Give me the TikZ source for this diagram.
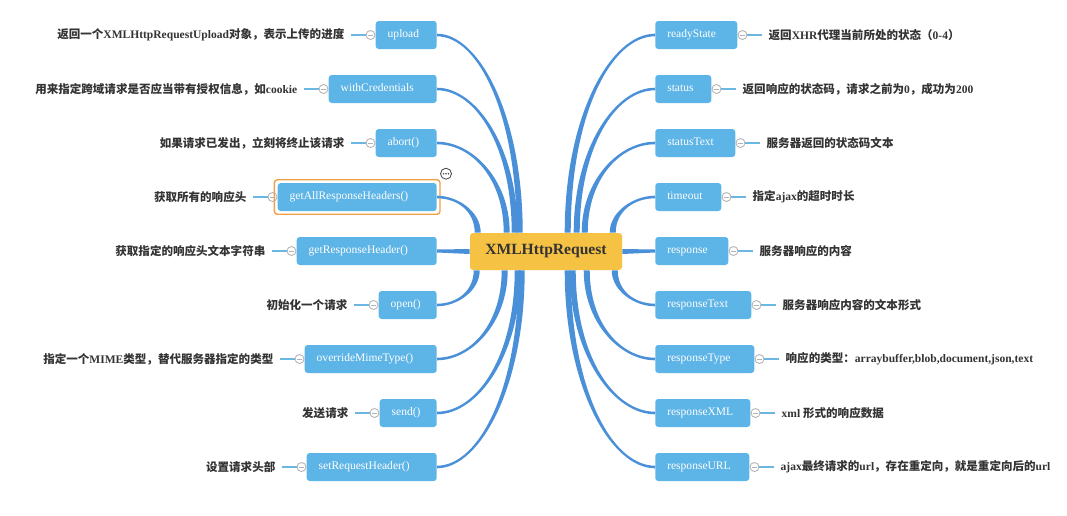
\documentclass[tikz,border=0pt]{standalone}
\usepackage{fontspec}
\setmainfont{Liberation Serif}
\newfontfamily\cjk{Noto Sans CJK SC}
\usetikzlibrary{calc,positioning}
\newlength\px
\setlength\px{0.025cm}
\definecolor{leafblue}{RGB}{93,180,230}
\definecolor{branchblue}{RGB}{74,144,217}
\definecolor{twigblue}{RGB}{108,182,228}
\definecolor{rootyellow}{RGB}{246,194,68}
\definecolor{ink}{RGB}{51,51,51}
\definecolor{hilite}{RGB}{240,160,72}
\newcommand{\zh}[1]{{\cjk\bfseries #1}}
\tikzset{
    root/.style={
            fill=rootyellow,
            rounded corners=3\px,
            minimum width=152\px,
            minimum height=37\px,
            inner sep=0pt,
            text height=7.2pt,
            text depth=3.2pt,
            text=ink,
            font=\fontsize{11.1}{13}\selectfont\bfseries
        },
    leaf/.style={
            fill=leafblue,
            rounded corners=3\px,
            minimum height=28\px,
            inner xsep=12\px, % text is boxed to the box width minus 24px
            inner ysep=0pt,
            text height=6pt,
            text depth=2.8pt,
            text=white,
            font=\fontsize{8.2}{10}\selectfont
        },
    fold/.style={
            circle,
            draw=black!30,
            fill=white,
            line width=0.6pt,
            minimum size=9\px,
            inner sep=0pt,
            path picture={\draw[black!30] ([xshift=-2.5\px]path picture bounding box.center) -- ([xshift=2.5\px]path picture bounding box.center);}
        },
    desc/.style={
            text=ink,
            inner xsep=6\px,
            inner ysep=2\px,
            font=\fontsize{8.2}{10}\selectfont\bfseries
        },
    twig/.style={
            draw=twigblue,
            line width=0.8pt
        },
    limb/.style={
            fill=branchblue
        }
}
% one item left of the root: name, y, text width, label, description
\newcommand{\leftitem}[5]{%
    \node[leaf, anchor=east] (#1) at (437,#2) {\makebox[#3\px][l]{#4}};
    \node[fold, left=0pt of #1] (#1-f) {};
    \node[desc, left=15\px of #1-f] (#1-d) {#5};
    \draw[twig] (#1-f) -- (#1-d);
}
% one item right of the root
\newcommand{\rightitem}[5]{%
    \node[leaf, anchor=west] (#1) at (655,#2) {\makebox[#3\px][l]{#4}};
    \node[fold, right=0pt of #1] (#1-f) {};
    \node[desc, right=15\px of #1-f] (#1-d) {#5};
    \draw[twig] (#1-f) -- (#1-d);
}
% tapered branch: x offset on root, north/south, target anchor, side
\newcommand{\limb}[4]{%
    \coordinate (bs) at ($(xhr.#2 west)+(#1,0)$);
    \fill[limb] ($(bs)+(-3,0)$)
    .. controls ($(bs)!0.6!(bs|-#3)+(-3,0)$) and ($(#3)!0.5!(bs|-#3)+(0,#4)$)
    .. ($(#3)+(0,#4)$)
    -- ($(#3)-(0,#4)$)
    .. controls ($(#3)!0.5!(bs|-#3)-(0,#4)$) and ($(bs)!0.6!(bs|-#3)+(3,0)$)
    .. ($(bs)+(3,0)$) -- cycle;
}

\begin{document}
\begin{tikzpicture}[x=1\px, y=-1\px]
    \useasboundingbox (0,0) rectangle (1067,515);
    %
    \node[root] (xhr) at (546,251.5) {XMLHttpRequest};
    %
    \leftitem{upload}{35}{37}{upload}{\zh{返回一个}XMLHttpRequestUpload\zh{对象，表示上传的进度}}
    \leftitem{cred}{89}{84}{withCredentials}{\zh{用来指定跨域请求是否应当带有授权信息，如}cookie}
    \leftitem{abort}{143}{37}{abort()}{\zh{如果请求已发出，立刻将终止该请求}}
    \leftitem{gah}{197}{135}{getAllResponseHeaders()}{\zh{获取所有的响应头}}
    \leftitem{grh}{251}{116}{getResponseHeader()}{\zh{获取指定的响应头文本字符串}}
    \leftitem{open}{305}{34}{open()}{\zh{初始化一个请求}}
    \leftitem{omt}{359}{108}{overrideMimeType()}{\zh{指定一个}MIME\zh{类型，替代服务器指定的类型}}
    \leftitem{send}{413}{33}{send()}{\zh{发送请求}}
    \leftitem{srh}{467}{106}{setRequestHeader()}{\zh{设置请求头部}}
    %
    \rightitem{ready}{35}{58}{readyState}{\zh{返回}XHR\zh{代理当前所处的状态（}0-4\zh{）}}
    \rightitem{status}{89}{32}{status}{\zh{返回响应的状态码，请求之前为}0\zh{，成功为}200}
    \rightitem{stext}{143}{56}{statusText}{\zh{服务器返回的状态码文本}}
    \rightitem{tout}{197}{42}{timeout}{\zh{指定}ajax\zh{的超时时长}}
    \rightitem{resp}{251}{49}{response}{\zh{服务器响应的内容}}
    \rightitem{rtext}{305}{72}{responseText}{\zh{服务器响应内容的文本形式}}
    \rightitem{rtype}{359}{75}{responseType}{\zh{响应的类型：}arraybuffer,blob,document,json,text}
    \rightitem{rxml}{413}{71}{responseXML}{xml \zh{形式的响应数据}}
    \rightitem{rurl}{467}{70}{responseURL}{ajax\zh{最终请求的}url\zh{，存在重定向，就是重定向后的}url}
    %
    \draw[hilite, line width=1pt, rounded corners=3\px] ($(gah.south west)+(-3,3)$) rectangle ($(gah.north east)+(3,-3)$);
    \node[circle, draw=black!70, line width=0.6pt, minimum size=11\px, inner sep=0pt] (note) at ($(gah.north east)+(9,-9)$) {};
    \foreach \dx in {-2.5,0,2.5}
        \fill[black!70] ($(note.center)+(\dx,0)$) circle (0.8\px);
    %
    \limb{50}{north}{upload.east}{1.3}
    \limb{45}{north}{cred.east}{1.3}
    \limb{37}{north}{abort.east}{1.3}
    \limb{8}{north}{gah.east}{1.3}
    \limb{7}{south}{open.east}{-1.3}
    \limb{35}{south}{omt.east}{-1.3}
    \limb{48}{south}{send.east}{-1.3}
    \limb{52}{south}{srh.east}{-1.3}
    \limb{98}{north}{ready.west}{-1.3}
    \limb{107}{north}{status.west}{-1.3}
    \limb{115}{north}{stext.west}{-1.3}
    \limb{143}{north}{tout.west}{-1.3}
    \limb{145}{south}{rtext.west}{1.3}
    \limb{117}{south}{rtype.west}{1.3}
    \limb{103}{south}{rxml.west}{1.3}
    \limb{98}{south}{rurl.west}{1.3}
    \fill[limb] ($(xhr.west)+(0,-2.5)$) -- ($(grh.east)+(0,-1.5)$) -- ($(grh.east)+(0,1.5)$) -- ($(xhr.west)+(0,2.5)$) -- cycle;
    \fill[limb] ($(xhr.east)+(0,-2.5)$) -- ($(resp.west)+(0,-1.5)$) -- ($(resp.west)+(0,1.5)$) -- ($(xhr.east)+(0,2.5)$) -- cycle;
\end{tikzpicture}
\end{document}
